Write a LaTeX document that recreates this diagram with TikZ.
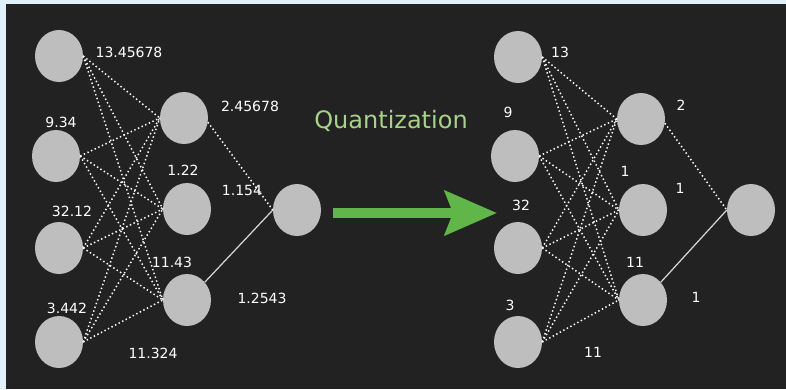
\documentclass[tikz,border=0pt]{standalone}
\usepackage{fontspec}
\setmainfont{DejaVu Sans}
\usetikzlibrary{arrows.meta,shapes.geometric,positioning}
\definecolor{pagebg}{RGB}{224,241,251}
\definecolor{panelbg}{RGB}{34,34,34}
\definecolor{neurongray}{RGB}{190,190,190}
\definecolor{qgreen}{RGB}{96,182,72}
\definecolor{qtext}{RGB}{168,210,138}

\begin{document}
\begin{tikzpicture}[
    x=1pt,y=-1pt,
    neuron/.style={ellipse,fill=neurongray,minimum width=48pt,minimum height=52pt,inner sep=0pt},
    weight/.style={text=white,font=\fontsize{14}{16}\selectfont,inner sep=0pt},
    link/.style={white,line width=1.5pt,dash pattern=on 1.4pt off 2.6pt},
    solidlink/.style={white!85!black,line width=1.2pt},
    arrow/.style={qgreen,line width=10pt,-{Stealth[length=52pt,width=44pt,inset=8pt]}}
]
    % page and dark panel
    \fill[pagebg] (0,0) rectangle (786,389);
    \fill[panelbg] (6,4) rectangle (786,389);

    % original network
    \node[neuron] (in1) at (59,56) {};
    \node[neuron] (in2) at (56,156) {};
    \node[neuron] (in3) at (59,248) {};
    \node[neuron] (in4) at (59,342) {};
    \node[neuron] (hid1) at (184,118) {};
    \node[neuron] (hid2) at (187,209) {};
    \node[neuron] (hid3) at (187,300) {};
    \node[neuron] (out) at (297,210) {};

    \node[weight] (w1) at (129,52) {13.45678};
    \node[weight] (w2) at (61,122) {9.34};
    \node[weight] (w3) at (72,211) {32.12};
    \node[weight] (w4) at (67,308) {3.442};
    \node[weight] (w5) at (153,353) {11.324};
    \node[weight] (w6) at (250,106) {2.45678};
    \node[weight] (w7) at (183,170) {1.22};
    \node[weight] (w8) at (242,190) {1.154};
    \node[weight] (w9) at (172,262) {11.43};
    \node[weight] (w10) at (262,298) {1.2543};

    \foreach \i in {in1,in2,in3,in4}
        \foreach \h in {hid1,hid2,hid3}
            \draw[link] (\i.east) -- (\h.west);
    \draw[link] (hid1.-10) -- (out.west);
    \draw[solidlink] (hid3.45) -- (out.west);

    % quantization arrow
    \node[text=qtext,font=\fontsize{24}{28}\selectfont] (qlabel) at (391,121) {Quantization};
    \coordinate (qstart) at (333,213);
    \coordinate (qend) at (497,213);
    \draw[arrow] (qstart) -- (qend);

    % quantized network
    \node[neuron] (qin1) at (518,57) {};
    \node[neuron] (qin2) at (515,156) {};
    \node[neuron] (qin3) at (518,248) {};
    \node[neuron] (qin4) at (518,342) {};
    \node[neuron] (qhid1) at (641,119) {};
    \node[neuron] (qhid2) at (643,210) {};
    \node[neuron] (qhid3) at (643,300) {};
    \node[neuron] (qout) at (751,210) {};

    \node[weight] (qw1) at (560,52) {13};
    \node[weight] (qw2) at (508,112) {9};
    \node[weight] (qw3) at (521,205) {32};
    \node[weight] (qw4) at (510,305) {3};
    \node[weight] (qw5) at (593,352) {11};
    \node[weight] (qw6) at (681,105) {2};
    \node[weight] (qw7) at (625,171) {1};
    \node[weight] (qw8) at (680,188) {1};
    \node[weight] (qw9) at (635,262) {11};
    \node[weight] (qw10) at (696,297) {1};

    \foreach \i in {qin1,qin2,qin3,qin4}
        \foreach \h in {qhid1,qhid2,qhid3}
            \draw[link] (\i.east) -- (\h.west);
    \draw[link] (qhid1.-10) -- (qout.west);
    \draw[solidlink] (qhid3.45) -- (qout.west);
\end{tikzpicture}
\end{document}
